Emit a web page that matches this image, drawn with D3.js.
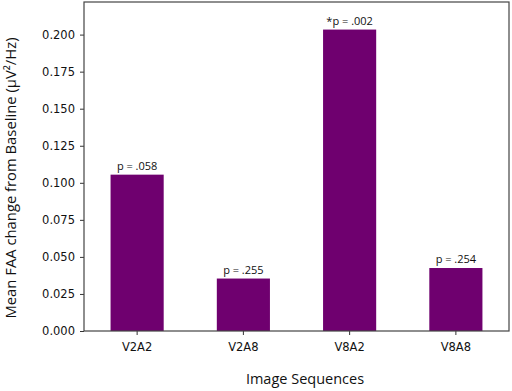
<!DOCTYPE html>
<html>
<head>
<meta charset="utf-8">
<script src="https://cdn.jsdelivr.net/npm/d3@7"></script>
<style>
  body { margin: 0; background: #fff; }
</style>
</head>
<body>
<div id="container"></div>
<script>
// data
let categories = ["V2A2", "V2A8", "V8A2", "V8A8"];
let values = [0.1055, 0.0354, 0.2034, 0.0425];
let pLabels = ["p = .058", "p = .255", "*p = .002", "p = .254"];
let yTicks = [0, 0.025, 0.05, 0.075, 0.1, 0.125, 0.15, 0.175, 0.2];

let w = 512;
let h = 391;
let plotLeft = 84, plotRight = 509, plotTop = 2, plotBottom = 331;
let barColor = "#6f006f";

let viz = d3.select("#container")
  .append("svg")
    .attr("width", w)
    .attr("height", h)
;

let xScale = d3.scaleBand()
  .domain(categories)
  .range([plotLeft, plotRight])
  .paddingInner(0.5)
  .paddingOuter(0.25)
;
let yScale = d3.scaleLinear()
  .domain([0, 0.222])
  .range([plotBottom, plotTop])
;

// bars
viz.selectAll("rect.bar")
  .data(values)
  .enter()
  .append("rect")
    .attr("class", "bar")
    .attr("x", function(d, i){ return xScale(categories[i]); })
    .attr("y", function(d){ return yScale(d); })
    .attr("width", xScale.bandwidth())
    .attr("height", function(d){ return plotBottom - yScale(d); })
    .attr("fill", barColor)
;

// p labels above bars
viz.selectAll("text.plabel")
  .data(values)
  .enter()
  .append("text")
    .attr("class", "plabel")
    .attr("x", function(d, i){ return xScale(categories[i]) + xScale.bandwidth() / 2; })
    .attr("y", function(d){ return yScale(d) - 5; })
    .attr("text-anchor", "middle")
    .attr("font-family", "'Open Sans', sans-serif")
    .attr("font-size", 11)
    .attr("fill", "#111")
    .text(function(d, i){ return pLabels[i]; })
;

// axes
let xAxis = d3.axisBottom(xScale).tickSize(4).tickPadding(8);
let xAxisGroup = viz.append("g").attr("transform", "translate(0," + plotBottom + ")").call(xAxis);
xAxisGroup.select(".domain").remove();
xAxisGroup.selectAll("text").attr("font-family", "'DejaVu Sans', sans-serif").attr("font-size", 11.5).attr("fill", "#111");
xAxisGroup.selectAll("line").attr("stroke", "#333");

let yAxis = d3.axisLeft(yScale).tickValues(yTicks).tickFormat(d3.format(".3f")).tickSize(4).tickPadding(5);
let yAxisGroup = viz.append("g").attr("transform", "translate(" + plotLeft + ",0)").call(yAxis);
yAxisGroup.select(".domain").remove();
yAxisGroup.selectAll("text").attr("font-family", "'DejaVu Sans', sans-serif").attr("font-size", 11.5).attr("fill", "#111");
yAxisGroup.selectAll("line").attr("stroke", "#333");

// frame
viz.append("rect")
  .attr("x", plotLeft)
  .attr("y", plotTop)
  .attr("width", plotRight - plotLeft)
  .attr("height", plotBottom - plotTop)
  .attr("fill", "none")
  .attr("stroke", "#444")
  .attr("stroke-width", 1.2)
;

// titles
viz.append("text")
  .attr("x", 305)
  .attr("y", 384)
  .attr("text-anchor", "middle")
  .attr("font-family", "'Open Sans', sans-serif")
  .attr("font-size", 14.5)
  .attr("fill", "#111")
  .text("Image Sequences")
;
viz.append("text")
  .attr("transform", "translate(16,178) rotate(-90)")
  .attr("text-anchor", "middle")
  .attr("font-family", "'Open Sans', sans-serif")
  .attr("font-size", 14.8)
  .attr("fill", "#111")
  .text("Mean FAA change from Baseline (μV²/Hz)")
;
</script>
</body>
</html>
